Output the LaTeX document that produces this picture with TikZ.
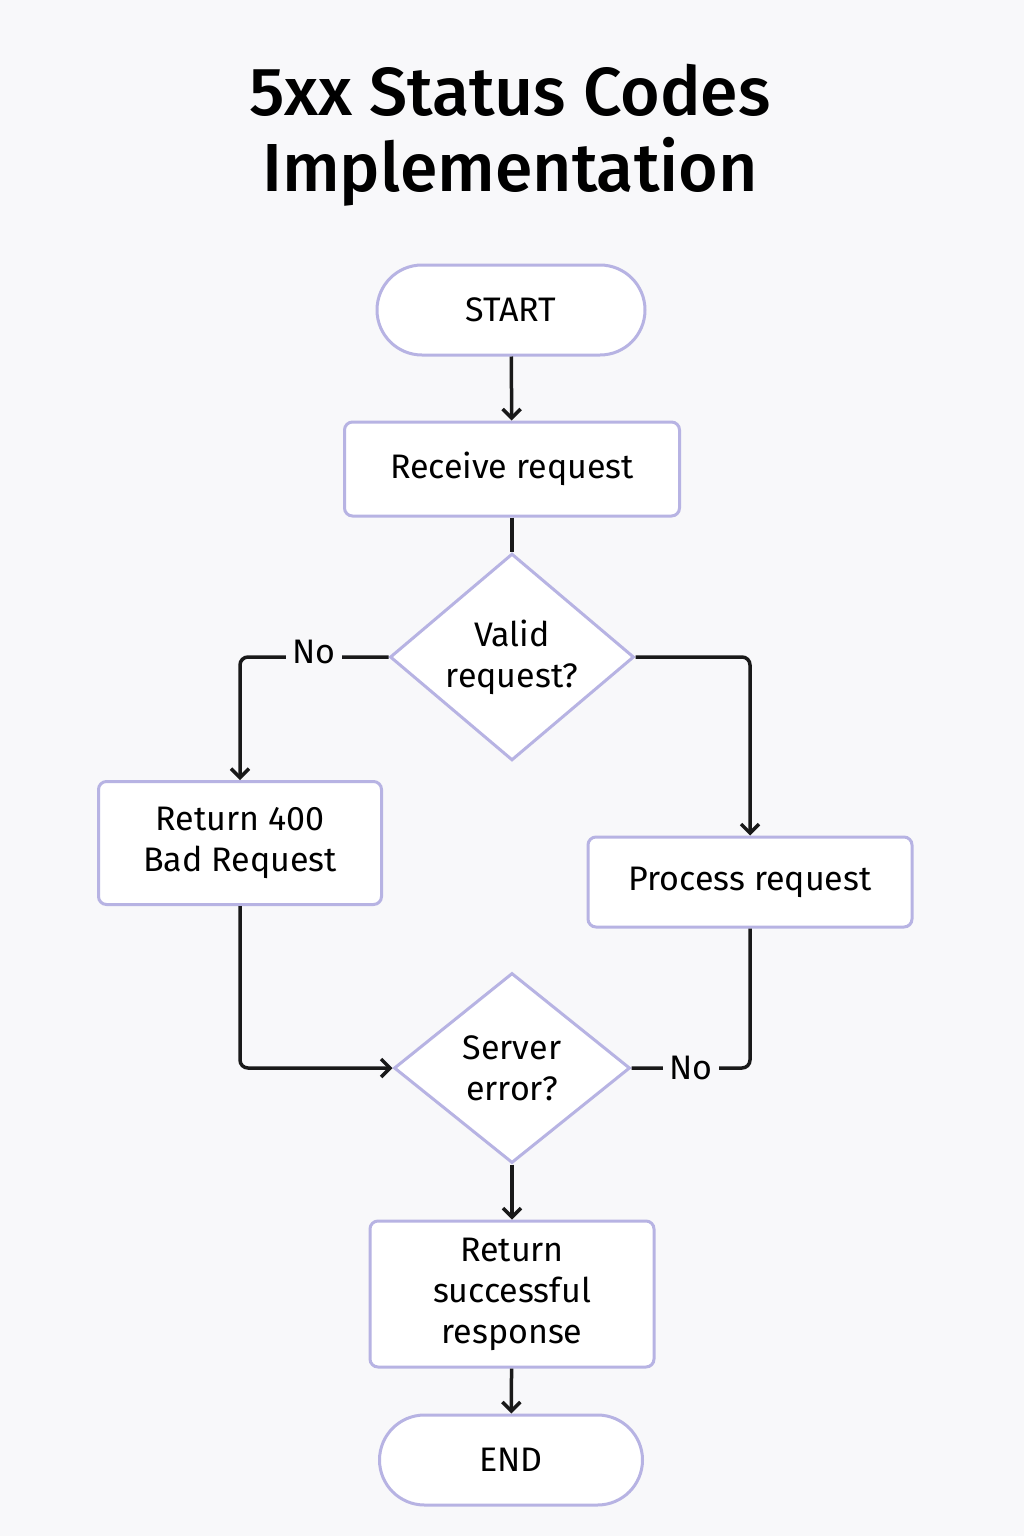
\documentclass[tikz,border=0pt]{standalone}
\usepackage{fontspec}
\setmainfont{Fira Sans}
\newfontfamily\titlefont{Fira Sans Medium}
\usetikzlibrary{shapes.geometric,arrows.meta}
\definecolor{bg}{HTML}{F8F8FA}
\definecolor{edge}{HTML}{B7B3E3}
\begin{document}
\begin{tikzpicture}[x=1pt,y=-1pt,
  box/.style={draw=edge,line width=3pt,fill=white,rounded corners=8pt,align=center,font=\fontsize{34}{41}\selectfont,inner sep=0pt},
  term/.style={box,rounded corners=45pt},
  dec/.style={draw=edge,line width=3pt,fill=white,diamond,align=center,font=\fontsize{34}{41}\selectfont,inner sep=0pt},
  conn/.style={draw=black!90,line width=3.5pt,rounded corners=8pt,-{Straight Barb[length=9pt,width=18pt]}},
  lbl/.style={fill=bg,font=\fontsize{34}{41}\selectfont,inner sep=6pt}]
\fill[bg] (0,0) rectangle (1024,1536);
\useasboundingbox (0,0) rectangle (1024,1536);
\node[font=\fontsize{68}{76}\selectfont\titlefont,align=center] (title) at (510,135) {5xx Status Codes\\Implementation};
\node[term,minimum width=268pt,minimum height=90pt] (start) at (511,310) {START};
\node[box,minimum width=335pt,minimum height=94pt] (recv) at (512,469) {Receive request};
\node[dec,minimum width=244pt,minimum height=200pt] (valid) at (512,657) {Valid\\request?};
\node[box,minimum width=283pt,minimum height=123pt] (bad) at (240,843) {Return 400\\Bad Request};
\node[box,minimum width=324pt,minimum height=90pt] (proc) at (750,882) {Process request};
\node[dec,minimum width=236pt,minimum height=190pt] (serr) at (512,1068) {Server\\error?};
\node[box,minimum width=284pt,minimum height=146pt] (succ) at (512,1294) {Return\\successful\\response};
\node[term,minimum width=263pt,minimum height=90pt] (end) at (511,1460) {END};
\coordinate (c1) at (240,657);
\coordinate (c2) at (750,657);
\coordinate (c3) at (240,1068);
\coordinate (c4) at (750,1068);
\draw[conn] (valid.west) -- (c1) -- (bad.north);
\node[lbl] at (314,652) {No};
\draw[conn] (start) -- (recv);
\draw[conn,-] (recv) -- (valid);
\draw[conn] (valid.east) -- (c2) -- (proc.north);
\draw[conn] (bad.south) -- (c3) -- (serr.west);
\draw[conn,-] (proc.south) -- (c4) -- (serr.east);
\node[lbl] at (691,1068) {No};
\draw[conn] (serr) -- (succ);
\draw[conn] (succ) -- (end);
\end{tikzpicture}
\end{document}
